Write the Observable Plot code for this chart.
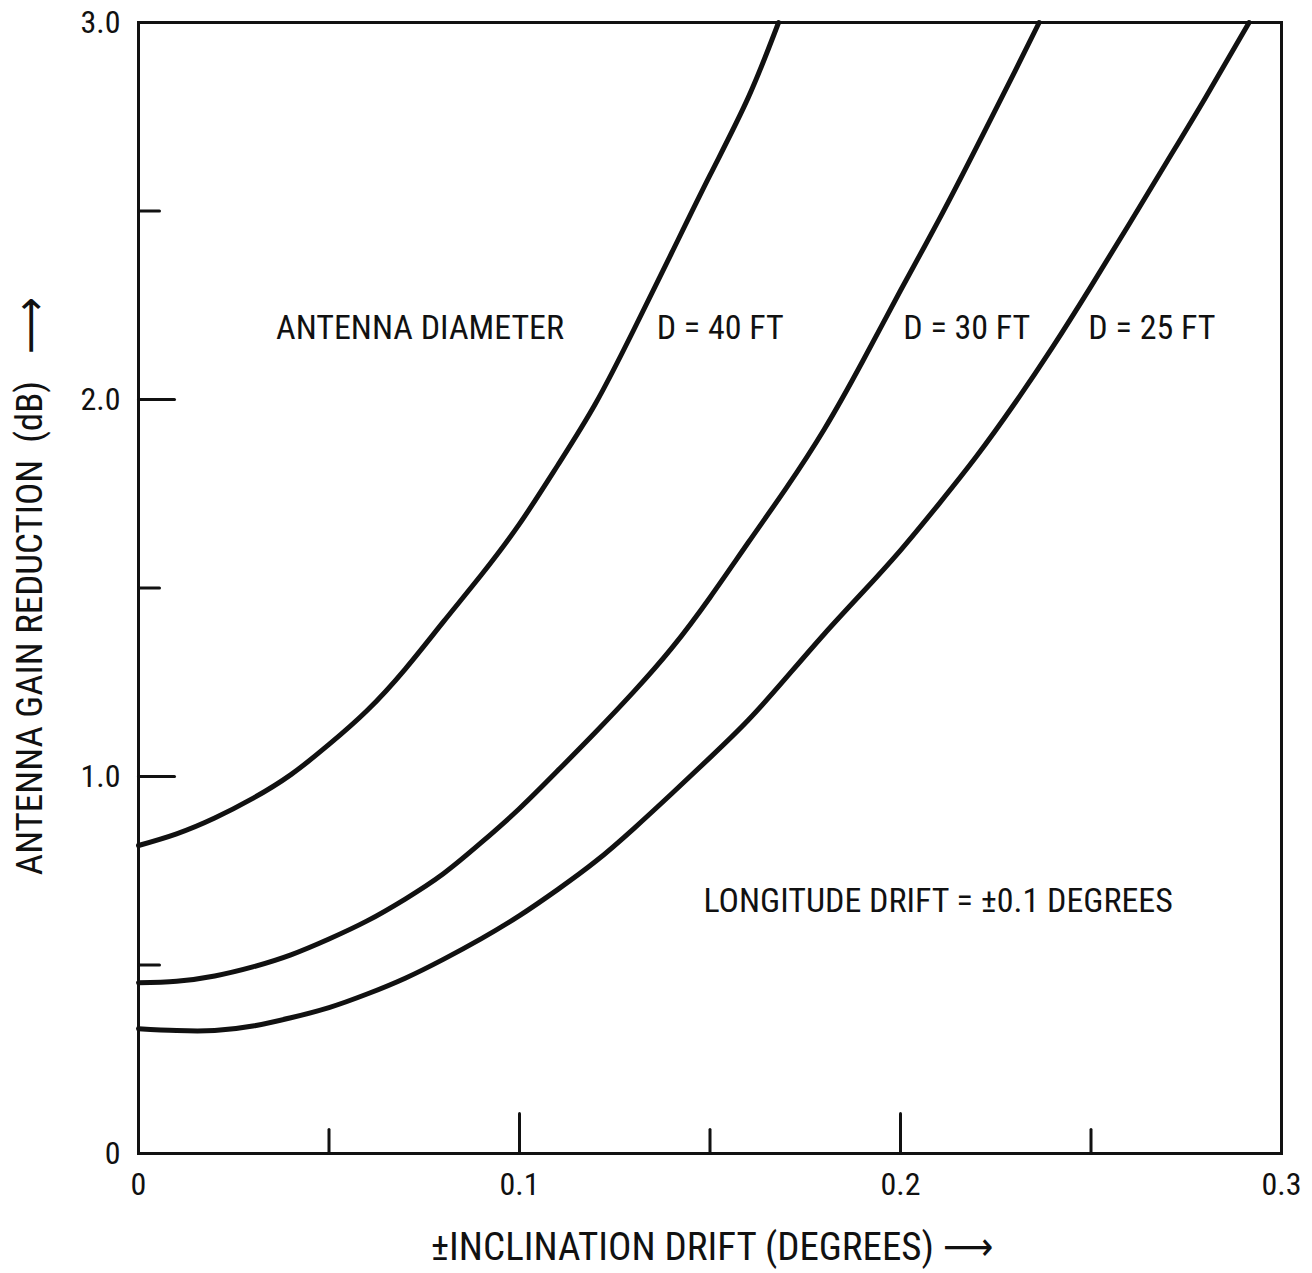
<!DOCTYPE html>
<html>
<head>
<meta charset="utf-8">
<script src="https://cdn.jsdelivr.net/npm/d3@7"></script>
<script src="https://cdn.jsdelivr.net/npm/@observablehq/plot@0.6"></script>
<style>
  html, body { margin: 0; padding: 0; background: #fff; }
  #chart svg { display: block; }
</style>
</head>
<body>
<div id="chart"></div>
<script>
// Antenna gain reduction (dB) versus ± inclination drift (degrees),
// one curve per antenna diameter; longitude drift held at ±0.1 degrees.

const d40X = [0, 0.010, 0.020, 0.030, 0.040, 0.050, 0.060, 0.070, 0.080, 0.090, 0.100, 0.110, 0.120, 0.130, 0.140, 0.150, 0.160, 0.168];
const d40Y = [0.817, 0.848, 0.890, 0.942, 1.005, 1.085, 1.175, 1.285, 1.410, 1.535, 1.670, 1.825, 1.990, 2.185, 2.390, 2.595, 2.800, 3.000];

const d30X = [0, 0.010, 0.020, 0.030, 0.040, 0.050, 0.060, 0.070, 0.080, 0.090, 0.100, 0.110, 0.120, 0.130, 0.140, 0.150, 0.160, 0.170, 0.180, 0.190, 0.200, 0.210, 0.220, 0.230, 0.2364];
const d30Y = [0.453, 0.457, 0.471, 0.495, 0.527, 0.569, 0.617, 0.675, 0.742, 0.825, 0.915, 1.015, 1.118, 1.225, 1.341, 1.475, 1.620, 1.765, 1.921, 2.100, 2.289, 2.475, 2.670, 2.870, 3.000];

const d25X = [0, 0.010, 0.020, 0.030, 0.040, 0.050, 0.060, 0.070, 0.080, 0.090, 0.100, 0.110, 0.120, 0.130, 0.140, 0.150, 0.160, 0.170, 0.180, 0.190, 0.200, 0.210, 0.220, 0.230, 0.240, 0.250, 0.260, 0.270, 0.280, 0.2915];
const d25Y = [0.331, 0.326, 0.326, 0.338, 0.360, 0.387, 0.423, 0.465, 0.515, 0.570, 0.631, 0.700, 0.775, 0.862, 0.955, 1.050, 1.149, 1.262, 1.378, 1.488, 1.600, 1.722, 1.850, 1.990, 2.140, 2.300, 2.465, 2.632, 2.800, 3.000];

const seriesNames = ["D = 40 FT", "D = 30 FT", "D = 25 FT"];

const xTickValues = [0, 0.1, 0.2, 0.3];
const xTickLabels = ["0", "0.1", "0.2", "0.3"];
const yTickValues = [0, 1, 2, 3];
const yTickLabels = ["0", "1.0", "2.0", "3.0"];

const xMajorTicks = [0.1, 0.2];
const xMinorTicks = [0.05, 0.15, 0.25];
const yMajorTicks = [1, 2];
const yMinorTicks = [0.5, 1.5, 2.5];

// In-plot annotations: text with its anchor point in data units
const noteText = ["ANTENNA DIAMETER", "D = 40 FT", "D = 30 FT", "D = 25 FT", "LONGITUDE DRIFT = \u00B10.1 DEGREES"];
const noteX = [0.0361, 0.136, 0.2007, 0.2493, 0.1483];
const noteY = [2.19, 2.19, 2.19, 2.19, 0.670];

const xTitle = "\u00B1INCLINATION DRIFT (DEGREES) \u27F6";
const yTitle = "ANTENNA GAIN REDUCTION  (dB)";

const FONT = "'Roboto Condensed', 'DejaVu Sans Condensed', sans-serif";
const INK = "#111";

const curves = [[d40X, d40Y], [d30X, d30Y], [d25X, d25Y]].flatMap(([xs, ys], k) =>
  xs.map((x, i) => ({series: seriesNames[k], x, y: ys[i]}))
);
const notes = noteText.map((text, i) => ({text, x: noteX[i], y: noteY[i]}));

// A plain line segment for the inward-pointing tick marks
const tickShape = {
  draw(context, length) {
    context.moveTo(0, 0);
    context.lineTo(0, -length);
  }
};

const chart = Plot.plot({
  width: 1312,
  height: 1273,
  marginLeft: 138,
  marginRight: 31,
  marginTop: 22,
  marginBottom: 120,
  x: {domain: [0, 0.3]},
  y: {domain: [0, 3]},
  style: {fontFamily: FONT, background: "#fff", color: INK},
  marks: [
    Plot.line(curves, {x: "x", y: "y", z: "series", curve: "natural", stroke: INK, strokeWidth: 5}),
    Plot.frame({stroke: INK, strokeWidth: 3}),

    // tick marks rising from the x axis and reaching in from the y axis
    Plot.vector(xMajorTicks, {x: d => d, y: 0, length: 40, rotate: 0, anchor: "start", shape: tickShape, stroke: INK, strokeWidth: 3}),
    Plot.vector(xMinorTicks, {x: d => d, y: 0, length: 24, rotate: 0, anchor: "start", shape: tickShape, stroke: INK, strokeWidth: 3}),
    Plot.vector(yMajorTicks, {x: 0, y: d => d, length: 36, rotate: 90, anchor: "start", shape: tickShape, stroke: INK, strokeWidth: 3}),
    Plot.vector(yMinorTicks, {x: 0, y: d => d, length: 21, rotate: 90, anchor: "start", shape: tickShape, stroke: INK, strokeWidth: 3}),

    Plot.axisX(xTickValues, {
      tickSize: 0, tickPadding: 19, fontSize: 32, label: null,
      tickFormat: d => xTickLabels[xTickValues.indexOf(d)]
    }),
    Plot.axisY(yTickValues, {
      tickSize: 0, tickPadding: 18, fontSize: 32, label: null,
      tickFormat: d => yTickLabels[yTickValues.indexOf(d)]
    }),

    Plot.text(notes, {x: "x", y: "y", text: "text", textAnchor: "start", lineAnchor: "middle", fontSize: 34, fill: INK}),

    // axis titles
    Plot.text([xTitle], {frameAnchor: "bottom", textAnchor: "middle", dx: 2, dy: 94, lineAnchor: "middle", fontSize: 39, fill: INK}),
    Plot.text([yTitle], {frameAnchor: "left", textAnchor: "middle", rotate: -90, dx: -108, dy: 40, lineAnchor: "middle", fontSize: 37, fill: INK}),
    Plot.text(["\u27F6"], {frameAnchor: "top-left", textAnchor: "middle", rotate: -90, dx: -108, dy: 303, lineAnchor: "middle", fontSize: 44, fill: INK})
  ]
});

document.getElementById("chart").appendChild(chart);
</script>
</body>
</html>
